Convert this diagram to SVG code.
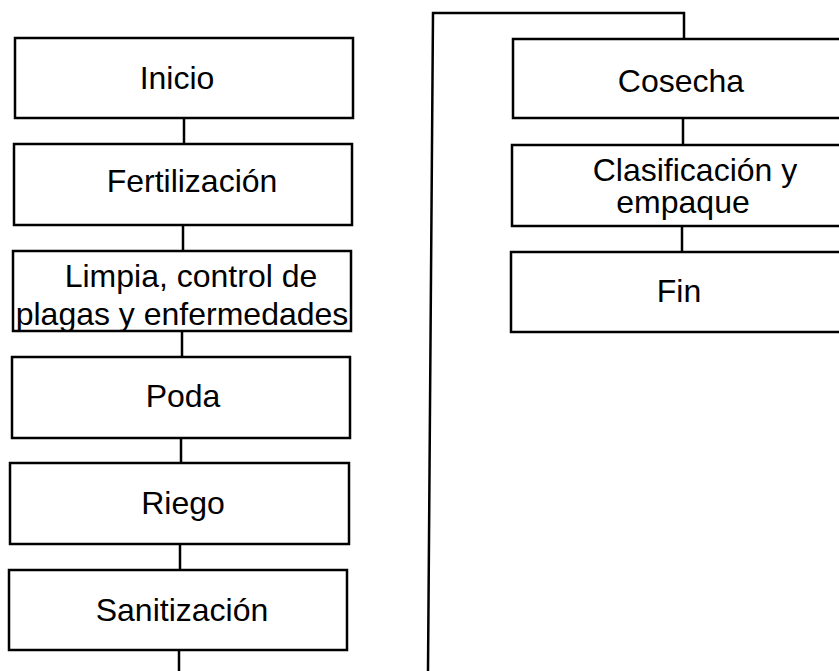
<svg xmlns="http://www.w3.org/2000/svg" width="839" height="671" viewBox="0 0 839 671">
<style>
.box{fill:#fff;stroke:#000;stroke-width:2.5}
.ln{fill:none;stroke:#000;stroke-width:2.5}
text{font-family:"Liberation Sans",Arial,sans-serif;font-size:32px;fill:#000;text-anchor:middle}
</style>
<rect width="839" height="671" fill="#fff"/>
<g id="connectors">
<line class="ln" x1="184" y1="118" x2="184" y2="144"/>
<line class="ln" x1="183" y1="225" x2="183" y2="251"/>
<line class="ln" x1="182" y1="331" x2="182" y2="357"/>
<line class="ln" x1="181" y1="438" x2="181" y2="463"/>
<line class="ln" x1="180" y1="544" x2="180" y2="570"/>
<line class="ln" x1="179" y1="650" x2="179" y2="671"/>
<polyline class="ln" points="428,671 433,13 684,13 684,39"/>
<line class="ln" x1="683" y1="118" x2="683" y2="145"/>
<line class="ln" x1="682" y1="226" x2="682" y2="252"/>
</g>
<g id="inicio"><rect class="box" x="15" y="38" width="338" height="80"/><text x="177" y="89">Inicio</text></g>
<g id="fertilizacion"><rect class="box" x="14" y="144" width="338" height="81"/><text x="192" y="192">Fertilización</text></g>
<g id="limpia"><rect class="box" x="13" y="251" width="338" height="80"/><text x="191" y="287">Limpia, control de</text><text x="182" y="325">plagas y enfermedades</text></g>
<g id="poda"><rect class="box" x="12" y="357" width="338" height="81"/><text x="183" y="407">Poda</text></g>
<g id="riego"><rect class="box" x="10" y="463" width="339" height="81"/><text x="183" y="514">Riego</text></g>
<g id="sanitizacion"><rect class="box" x="9" y="570" width="338" height="80"/><text x="182" y="621">Sanitización</text></g>
<g id="cosecha"><rect class="box" x="513" y="39" width="340" height="79"/><text x="681" y="92">Cosecha</text></g>
<g id="clasificacion"><rect class="box" x="512" y="145" width="340" height="81"/><text x="695" y="181">Clasificación y</text><text x="683" y="213">empaque</text></g>
<g id="fin"><rect class="box" x="511" y="252" width="340" height="80"/><text x="679" y="302">Fin</text></g>
</svg>
